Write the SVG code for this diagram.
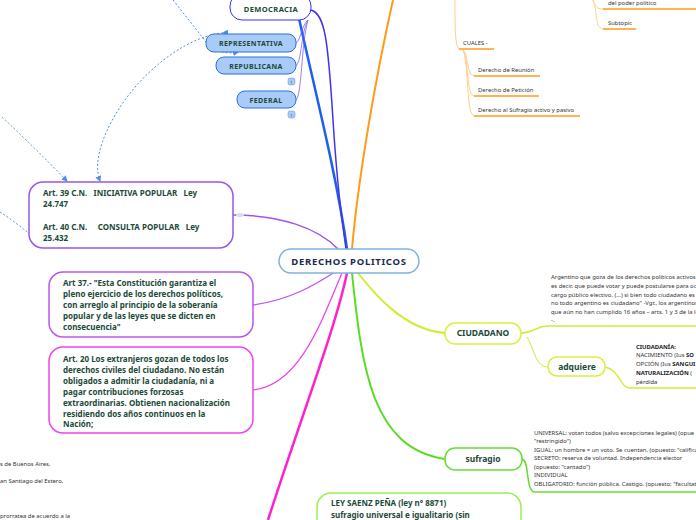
<svg xmlns="http://www.w3.org/2000/svg" width="696" height="520" viewBox="0 0 696 520">
<defs>
<marker id="arr" markerWidth="6" markerHeight="6" refX="5" refY="3" orient="auto" markerUnits="userSpaceOnUse">
<path d="M0,0 L6,3 L0,6 z" fill="#4a90e2"/>
</marker>
<style>
text{font-family:"Noto Sans","Open Sans","Liberation Sans",sans-serif}
.nt{font-weight:bold;fill:#1b4a38;text-anchor:middle}
.bt{font-weight:bold;fill:#1b4a38;font-size:8px}
.sm{fill:#333;font-size:5.9px}
.smb{fill:#222;font-size:5.9px;font-weight:bold}
.box{fill:#fff}
.rel{fill:none;stroke:#4a90e2;stroke-width:1;stroke-dasharray:2,2}
.c{fill:none}
</style>
</defs>
<rect width="696" height="520" fill="#fff"/>

<g id="connectors">
<path class="c" d="M347,249 C 336,170 312,80 295,0" stroke="#1e5ef0" stroke-width="2.5"/>
<path class="c" d="M311,10 C 325,14 328,40 333,120 S 343,225 346,249" stroke="#4433ee" stroke-width="1.5"/>
<path class="c" d="M308,20 C 301,26 301,40 296,43" stroke="#7766ee" stroke-width="0.8"/>
<path class="c" d="M308,20 C 301,32 302,60 296,66" stroke="#7766ee" stroke-width="0.8"/>
<path class="c" d="M308,20 C 301,45 302,95 296,100" stroke="#7766ee" stroke-width="0.8"/>
<path class="c" d="M352,249 C 358,180 375,80 393,0" stroke="#ff9a1a" stroke-width="2"/>
<path class="c" d="M455,0 C 455,30 455,45 459,49" stroke="#ffcf8a" stroke-width="1"/>
<path class="c" d="M459,49 H494" stroke="#ff9a1a" stroke-width="1.5"/>
<path class="c" d="M463,50 C 469,55 466,74 474,76" stroke="#ffcf8a" stroke-width="1"/>
<path class="c" d="M463,50 C 469,60 466,94 474,96" stroke="#ffcf8a" stroke-width="1"/>
<path class="c" d="M463,50 C 469,65 466,114 474,116" stroke="#ffcf8a" stroke-width="1"/>
<path class="c" d="M474,76 H540 M474,96 H539 M474,116 H580" stroke="#ff9a1a" stroke-width="1.5"/>
<path class="c" d="M593,0 C 595,5 596,9 603,9" stroke="#ffcf8a" stroke-width="1"/>
<path class="c" d="M593,0 C 598,15 595,28 603,29" stroke="#ffcf8a" stroke-width="1"/>
<path class="c" d="M603,9 H696 M603,29 H636" stroke="#ff9a1a" stroke-width="1.5"/>
<path class="c" d="M233,215 C 280,215 318,228 338,249" stroke="#9955ee" stroke-width="1.5"/>
<path class="c" d="M253,305 C 290,300 315,285 338,270" stroke="#bb55ee" stroke-width="1.3"/>
<path class="c" d="M253,390 C 300,385 322,320 342,273" stroke="#ee44ee" stroke-width="1.3"/>
<path class="c" d="M347,273 C 335,330 300,420 268,520" stroke="#ff22cc" stroke-width="2.5"/>
<path class="c" d="M358,273 C 375,295 405,330 445,333" stroke="#ccee33" stroke-width="2"/>
<path class="c" d="M521,333 C 535,333 535,326 548,326 H696" stroke="#ccee33" stroke-width="1.5"/>
<path class="c" d="M527,337 C 535,350 535,367 548,367" stroke="#ccee33" stroke-width="1"/>
<path class="c" d="M605,367 C 620,370 620,388 630,388 H696" stroke="#ccee33" stroke-width="1.3"/>
<path class="c" d="M352,273 C 362,370 372,448 445,459" stroke="#55dd22" stroke-width="2"/>
<path class="c" d="M522,459 C 530,460 525,492 535,492 H696" stroke="#66dd33" stroke-width="1.5"/>
<ellipse cx="240" cy="215" rx="4" ry="2" fill="#dcdcec"/>
<path class="rel" d="M173,0 C 185,15 195,28 203,38 C 210,50 225,55 238,52" marker-end="url(#arr)"/>
<path class="rel" d="M223,33 C 190,36 150,65 125,100 C 105,128 92,160 100,181" marker-start="url(#arr)" marker-end="url(#arr)"/>
<path class="rel" d="M2,117 Q 35,148 67,181" marker-end="url(#arr)"/>
<path class="rel" d="M0,212 Q 20,225 40,243" marker-end="url(#arr)"/>
</g>

<g id="central">
<rect x="279" y="249" width="140" height="24" rx="12" fill="#fff" stroke="#7fb2e0" stroke-width="1.5"/>
<text x="349" y="265" text-anchor="middle" font-size="9.5" font-weight="bold" letter-spacing="0.7" fill="#1c2c4c">DERECHOS  POLITICOS</text>
</g>

<g id="democracia">
<rect class="box" x="230" y="-6" width="81" height="26" rx="12" stroke="#3333ee" stroke-width="1"/>
<text class="nt" x="271" y="12" font-size="7.5" letter-spacing="0.4">DEMOCRACIA</text>
</g>
<g id="representativa">
<rect x="206" y="34" width="90" height="18" rx="8" fill="#a8cbf7" stroke="#2a6fdc" stroke-width="1"/>
<text class="nt" x="251" y="46" font-size="7" letter-spacing="0.4">REPRESENTATIVA</text>
</g>
<g id="republicana">
<rect x="216" y="57" width="80" height="17" rx="8" fill="#a8cbf7" stroke="#2a6fdc" stroke-width="1"/>
<text class="nt" x="256" y="69" font-size="7" letter-spacing="0.4">REPUBLICANA</text>
<rect x="288" y="78" width="7" height="7" rx="2" fill="#a8cbf7" stroke="#5b8fd8" stroke-width="0.5"/>
<text x="291.5" y="83.5" font-size="4" text-anchor="middle" fill="#335">1</text>
</g>
<g id="federal">
<rect x="237" y="91" width="59" height="17" rx="8" fill="#a8cbf7" stroke="#2a6fdc" stroke-width="1"/>
<text class="nt" x="266" y="103" font-size="7" letter-spacing="0.4">FEDERAL</text>
<rect x="288" y="111" width="7" height="7" rx="2" fill="#a8cbf7" stroke="#5b8fd8" stroke-width="0.5"/>
<text x="291.5" y="116.5" font-size="4" text-anchor="middle" fill="#335">1</text>
</g>

<g id="cuales">
<text class="sm" x="463" y="45">CUALES -</text>
<text class="sm" x="478" y="72">Derecho de Reunión</text>
<text class="sm" x="478" y="92">Derecho de Petición</text>
<text class="sm" x="478" y="112">Derecho al Sufragio activo y pasivo</text>
<text class="sm" x="608" y="5">del poder político</text>
<text class="sm" x="608" y="25">Subtopic</text>
</g>

<g id="art39">
<rect class="box" x="29" y="182" width="204" height="66" rx="14" stroke="#9955ee" stroke-width="1.5"/>
<text class="bt" xml:space="preserve"><tspan x="43" y="196">Art. 39 C.N.   INICIATIVA POPULAR   Ley</tspan><tspan x="43" y="207">24.747</tspan><tspan x="43" y="230">Art. 40 C.N.     CONSULTA POPULAR   Ley</tspan><tspan x="43" y="241">25.432</tspan></text>
</g>

<g id="art37">
<rect class="box" x="49" y="272" width="204" height="65" rx="14" stroke="#bb55ee" stroke-width="1.5"/>
<text class="bt"><tspan x="63" y="286">Art 37.- "Esta Constitución garantiza el</tspan><tspan x="63" y="297">pleno ejercicio de los derechos políticos,</tspan><tspan x="63" y="308">con arreglo al principio de la soberanía</tspan><tspan x="63" y="319">popular y de las leyes que se dicten en</tspan><tspan x="63" y="330">consecuencia"</tspan></text>
</g>

<g id="art20">
<rect class="box" x="49" y="347" width="204" height="86" rx="14" stroke="#ee44ee" stroke-width="1.5"/>
<text class="bt"><tspan x="63" y="362">Art. 20 Los extranjeros gozan de todos los</tspan><tspan x="63" y="373">derechos civiles del ciudadano. No están</tspan><tspan x="63" y="384">obligados a admitir la ciudadanía, ni a</tspan><tspan x="63" y="395">pagar contribuciones forzosas</tspan><tspan x="63" y="406">extraordinarias. Obtienen nacionalización</tspan><tspan x="63" y="417">residiendo dos años continuos en la</tspan><tspan x="63" y="427">Nación;</tspan></text>
</g>

<g id="leftnotes">
<text class="sm" x="0" y="466">s de Buenos Aires,</text>
<text class="sm" x="0" y="483">an Santiago del Estero,</text>
<text class="sm" x="0" y="518">prorratea de acuerdo a la</text>
</g>

<g id="ciudadano">
<rect class="box" x="445" y="323" width="76" height="21" rx="10" stroke="#d8f040" stroke-width="1.5"/>
<text class="nt" x="483" y="336" font-size="8.5">CIUDADANO</text>
<text class="sm"><tspan x="551" y="279">Argentino que goza de los derechos políticos activos</tspan><tspan x="551" y="288">es decir, que puede votar y puede postularse para oc</tspan><tspan x="551" y="297">cargo público electivo. (...) si bien todo ciudadano es</tspan><tspan x="551" y="305">no todo argentino es ciudadano" -Vgr., los argentinos</tspan><tspan x="551" y="314">que aún no han cumplido 16 años – arts. 1 y 3 de la le</tspan><tspan x="551" y="322">-.</tspan></text>
</g>

<g id="adquiere">
<rect class="box" x="548" y="357" width="57" height="19" rx="9" stroke="#d8f040" stroke-width="1.5"/>
<text class="nt" x="577" y="370" font-size="8.5">adquiere</text>
<text class="sm"><tspan x="636" y="349" class="smb">CIUDADANÍA:</tspan><tspan x="636" y="357">NACIMIENTO (Ius </tspan><tspan class="smb">SO</tspan><tspan x="636" y="366">OPCIÓN (Ius </tspan><tspan class="smb">SANGUI</tspan><tspan x="636" y="375" class="smb">NATURALIZACIÓN</tspan><tspan> (</tspan><tspan x="636" y="384">pérdida</tspan></text>
</g>

<g id="sufragio">
<rect class="box" x="445" y="448" width="77" height="22" rx="10" stroke="#66dd33" stroke-width="1.5"/>
<text class="nt" x="483" y="462" font-size="8.5">sufragio</text>
<text class="sm"><tspan x="534" y="435">UNIVERSAL: votan todos (salvo excepciones legales) (opue</tspan><tspan x="534" y="443">"restringido")</tspan><tspan x="534" y="452">IGUAL: un hombre = un voto. Se cuentan. (opuesto: "califica</tspan><tspan x="534" y="460">SECRETO: reserva de voluntad. Independencia elector</tspan><tspan x="534" y="469">(opuesto: "cantado")</tspan><tspan x="534" y="477">INDIVIDUAL</tspan><tspan x="534" y="486">OBLIGATORIO: función pública. Castigo. (opuesto: "facultat</tspan></text>
</g>

<g id="saenzpena">
<rect class="box" x="317" y="493" width="204" height="60" rx="14" stroke="#99ee55" stroke-width="1.5"/>
<text class="bt"><tspan x="331" y="506">LEY SAENZ PEÑA (ley n° 8871)</tspan><tspan x="331" y="518">sufragio universal e igualitario (sin</tspan></text>
</g>
</svg>
